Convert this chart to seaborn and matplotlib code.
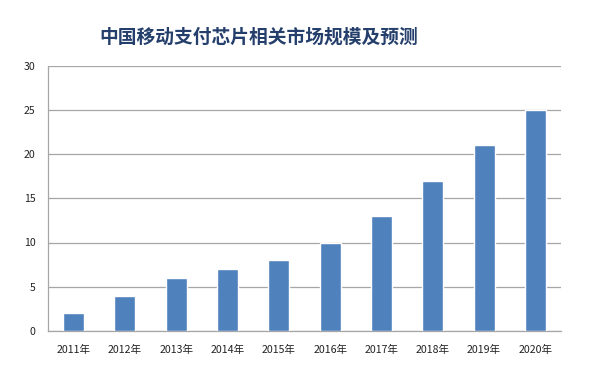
import matplotlib
matplotlib.use("Agg")
import matplotlib.pyplot as plt
import seaborn as sns
import pandas as pd

years = ["2011年", "2012年", "2013年", "2014年", "2015年", "2016年", "2017年", "2018年", "2019年", "2020年"]
values = [2, 4, 6, 7, 8, 10, 13, 17, 21, 25]
yticks = [0, 5, 10, 15, 20, 25, 30]
title = "中国移动支付芯片相关市场规模及预测"

sns.set_theme(style="white")
plt.rcParams['font.family'] = ['Noto Sans CJK SC', 'DejaVu Sans']

df = pd.DataFrame({"year": years, "value": values})

fig = plt.figure(figsize=(5.89, 3.71), dpi=100)
ax = fig.add_axes([48/589, 1 - 331/371, (561-48)/589, (331-65.5)/371])

sns.barplot(data=df, x="year", y="value", color="#4F81BD", saturation=1, width=0.41, ax=ax, zorder=3)

ax.set_ylim(0, 30)
ax.set_yticks(yticks)
ax.set_xlim(-0.5, len(years) - 0.5)
ax.yaxis.grid(True, color="#a6a6a6", linewidth=0.9, zorder=0)
ax.set_axisbelow(True)
for s in ["top", "right"]:
    ax.spines[s].set_visible(False)
for s in ["left", "bottom"]:
    ax.spines[s].set_color("#a6a6a6")
    ax.spines[s].set_linewidth(0.9)
ax.set_xlabel("")
ax.set_ylabel("")
ax.tick_params(axis="both", length=0, labelsize=7.6, colors="#222222")
ax.tick_params(axis="y", pad=9)
ax.tick_params(axis="x", pad=10)

fig.text(259/589, 1 - 37/371, title, ha="center", va="center", fontsize=13.5,
         color="#243F6B", fontweight="bold")

fig.savefig("out.png", dpi=100, facecolor="white")
